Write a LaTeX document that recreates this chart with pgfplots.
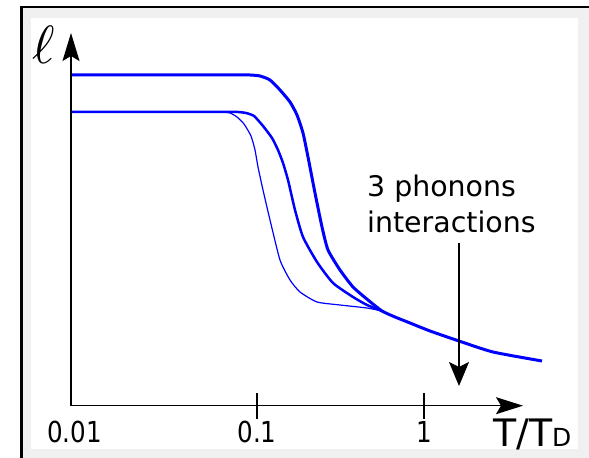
\documentclass[border=0pt]{standalone}
\usepackage{fontspec}
\setmainfont{DejaVu Sans}
\newfontfamily\tickfont{DejaVu Sans}[FakeStretch=0.85]
\usepackage{pgfplots}
\pgfplotsset{compat=1.18}
\usetikzlibrary{arrows.meta}
\definecolor{curve}{RGB}{0,0,255}
\definecolor{frame}{RGB}{240,240,240}

\begin{document}
\begin{tikzpicture}[x=1bp,y=1bp]
% page frame
\path[use as bounding box, fill=white] (0,0) rectangle (589,458);
\fill[frame] (22,0) rectangle (589,451);
\fill[white] (31,9) rectangle (578,440);
\draw[line width=2.5bp] (21.5,0) -- (21.5,451) -- (589,451);

% origin anchor sits at (xmin,ymin) here, so place it there
\begin{axis}[
    at={(71,52.3)}, anchor=origin,
    x=1bp, y=1bp,
    xmin=71, xmax=523, ymin=52.3, ymax=425,
    axis lines=left,
    axis line style={line width=1.4bp},
    x axis line style={-{Stealth[length=27bp,width=17bp,inset=5bp]}},
    y axis line style={-{Stealth[length=28bp,width=17bp,inset=5bp]}},
    xtick={257,424}, xticklabels={0.1,1},
    extra x ticks={74.5}, extra x tick labels={0.01},
    extra x tick style={tick style={draw=none}},
    ytick=\empty,
    major tick length=26bp, tick align=center,
    tick style={line width=1.4bp, black},
    xticklabel style={font=\fontsize{29}{35}\tickfont, anchor=base, yshift=-24.3bp},
    clip=false,
]
% --- mean free path curves ---
\addplot[curve, line width=3bp, smooth, tension=0.35] coordinates {
    (72,383) (200,383) (235,383) (250,383) (260,382) (270,378) (280,368)
    (290,356) (297,343) (303,325) (308,301) (315,265) (322,231) (328,208)
    (340,188) (353,171) (368,158) (382,147) (395,141) (410,135) (430,127)
    (459,117) (493,106) (542,97)};
\addplot[curve, line width=2.5bp, smooth, tension=0.35] coordinates {
    (72,346) (200,346) (225,346) (238,346) (246,345) (254,342) (263,332)
    (272,320) (278,308) (283,295) (288,278) (295,248) (303,221) (317,196)
    (333,175) (353,161) (367,153) (382,147)};
\addplot[curve, line width=1.2bp, smooth, tension=0.35] coordinates {
    (72,346) (180,346) (210,346) (222,346) (230,345) (237,341) (244,334)
    (251,322) (255,308) (258,291) (263,268) (270,238) (280,198) (290,178)
    (300,166) (317,156) (340,153) (367,150) (382,147)};

% --- annotation ---
\draw[line width=1.5bp, -{Stealth[length=24bp,width=20bp,inset=5bp]}]
    (axis cs:459,215) -- (axis cs:459,72);
\node[anchor=base west, inner sep=0, font=\fontsize{28.5}{34}\selectfont]
    at (axis cs:367,261) {3 phonons};
\node[anchor=base west, inner sep=0, font=\fontsize{28.5}{34}\selectfont]
    at (axis cs:367,225) {interactions};
\node[anchor=base west, inner sep=0]
    at (axis cs:493,11) {\fontsize{38}{40}\selectfont T/T\fontsize{25}{28}\selectfont D};
\node[inner sep=0] at (axis cs:44,413) {\scalebox{5.4}{$\ell$}};
\end{axis}
\end{tikzpicture}
\end{document}
